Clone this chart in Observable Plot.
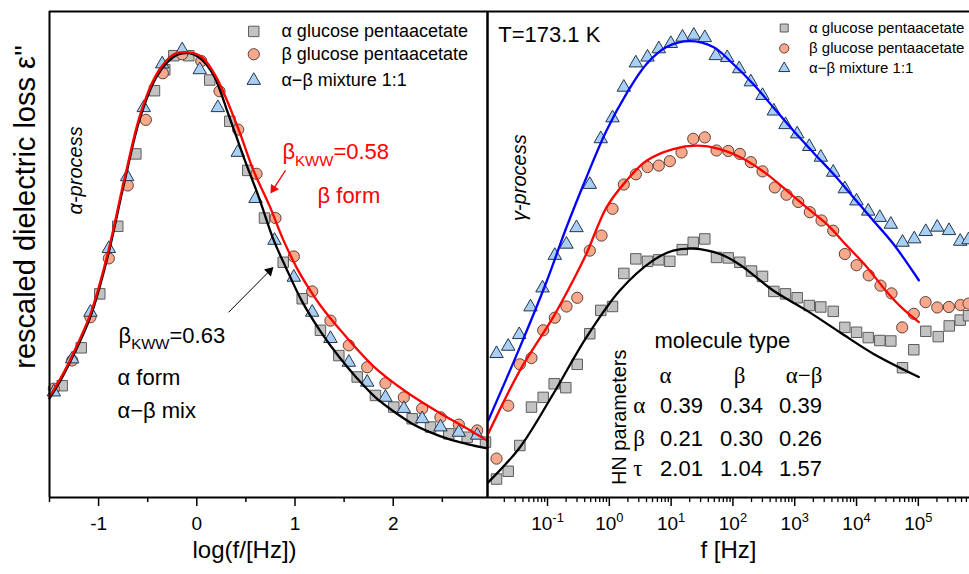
<!DOCTYPE html>
<html><head><meta charset="utf-8">
<script src="https://cdn.jsdelivr.net/npm/d3@7"></script>
<script src="https://cdn.jsdelivr.net/npm/@observablehq/plot@0.6"></script>
<style>
body{margin:0;background:#fff;}
#wrap{display:flex;width:969px;height:574px;overflow:hidden;background:#fff;}
#wrap svg{overflow:visible;flex:none;}
</style></head><body><div id="wrap"></div>
<script>
// ---------- LEFT PANEL (alpha process), x = log10(f/Hz), y = rescaled loss (a.u.) ----------
const lfAlphaL = [-1.371,-1.177,-0.988,-0.805,-0.621,-0.431,-0.326,-0.234,-0.082,0.132,0.336,0.519,0.689,0.880,1.073,1.259,1.446,1.633,1.819,2.006,2.193,2.380,2.566,2.753,2.940];
const lossAlphaL = [23.0,30.8,41.9,55.8,70.7,83.7,88.0,90.9,90.9,85.9,77.4,67.3,57.5,48.4,40.9,34.4,29.2,24.8,21.0,18.6,16.2,14.5,13.1,12.4,11.4];
const lfBetaL = [-1.456,-1.269,-1.083,-0.896,-0.703,-0.519,-0.346,-0.149,0.045,0.231,0.421,0.608,0.801,0.988,1.175,1.361,1.548,1.735,1.921,2.108,2.295,2.481,2.668,2.855];
const lossBetaL = [22.4,28.2,37.1,49.2,64.2,77.7,87.3,91.2,89.8,83.6,75.7,66.6,57.5,49.6,42.4,36.4,31.3,26.8,23.5,20.6,18.3,16.5,15.0,13.8];
const lfMixL = [-1.456,-1.269,-1.083,-0.896,-0.709,-0.540,-0.352,-0.149,0.030,0.214,0.417,0.598,0.791,0.988,1.175,1.361,1.548,1.735,1.921,2.108,2.295,2.481,2.668,2.855];
const lossMixL = [21.7,28.5,38.1,51.2,66.0,80.2,89.2,92.1,88.0,80.2,71.0,61.5,52.9,45.3,38.1,32.7,27.8,23.7,20.6,18.3,16.2,14.5,13.4,12.8];
// KWW fits
const lfFit063 = [-1.5,-1.388,-1.253,-1.083,-0.912,-0.743,-0.573,-0.403,-0.234,-0.098,0.038,0.173,0.326,0.478,0.631,0.784,0.903,1.073,1.259,1.446,1.633,1.819,2.006,2.193,2.380,2.566,2.753,2.957];
const fit063 = [20.4,24.1,29.4,37.2,49.2,64.4,78.4,86.8,90.7,91.5,90.3,86.8,78.6,70.0,61.8,52.9,47.5,40.3,34.2,29.0,24.5,20.6,17.7,15.2,13.4,12.0,11.0,10.1];
const lfFit058 = [-1.5,-1.388,-1.253,-1.083,-0.912,-0.743,-0.573,-0.403,-0.234,-0.085,0.048,0.190,0.411,0.577,0.743,0.883,1.022,1.124,1.259,1.463,1.799,2.142,2.481,2.716,2.957];
const fit058 = [20.8,24.5,29.9,37.8,49.8,65.0,79.0,87.3,91.2,91.6,90.7,86.8,76.5,67.3,59.9,52.9,47.1,43.6,39.5,34.4,27.0,21.6,17.3,14.6,11.7];
const leftTicks = [-1, 0, 1, 2];
const leftMinorTicks = [-1.5, -0.5, 0.5, 1.5, 2.5];

// ---------- RIGHT PANEL (gamma process), x = log10(f/Hz) ----------
const lfAlphaR = [-1.825,-1.636,-1.448,-1.259,-1.070,-0.892,-0.704,-0.519,-0.316,-0.138,0.052,0.235,0.429,0.618,0.801,0.979,1.180,1.358,1.545,1.735,1.924,2.112,2.301,2.479,2.662,2.851,3.040,3.235,3.422,3.623,3.811,4.000,4.189,4.377,4.555,4.744,4.927,5.121,5.322,5.500,5.678,5.812];
const lossAlphaR = [3.8,5.4,10.7,18.6,20.6,23.4,22.6,27.4,33.7,38.5,39.3,46.1,49.1,48.6,48.9,48.6,51.0,52.5,53.2,49.4,49.3,48.4,46.6,45.5,42.4,41.9,41.1,39.5,39.2,38.3,35.0,34.0,32.9,32.3,32.2,26.7,30.4,34.2,33.1,35.3,36.5,37.4];
const lfBetaR = [-1.825,-1.636,-1.448,-1.259,-1.070,-0.882,-0.693,-0.519,-0.316,-0.126,0.052,0.235,0.429,0.618,0.801,0.979,1.168,1.358,1.545,1.735,1.924,2.112,2.290,2.479,2.678,2.867,3.057,3.244,3.434,3.623,3.811,4.000,4.197,4.388,4.566,4.739,4.927,5.117,5.306,5.494,5.683,5.812];
const lossBetaR = [8.0,18.9,27.4,28.7,34.4,37.0,39.3,41.1,50.8,53.9,59.4,64.4,66.5,68.0,68.3,69.2,71.0,73.8,74.1,71.4,71.3,70.7,69.0,67.1,63.8,62.3,60.8,58.7,57.0,54.9,50.1,47.8,45.7,43.6,42.0,35.0,37.8,40.2,39.1,39.2,39.6,39.9];
const lfMixR = [-1.825,-1.636,-1.458,-1.275,-1.081,-0.882,-0.693,-0.531,-0.316,-0.138,0.052,0.235,0.429,0.618,0.801,0.995,1.184,1.367,1.545,1.723,1.908,2.102,2.290,2.479,2.662,2.851,3.040,3.235,3.422,3.623,3.811,4.000,4.189,4.377,4.555,4.744,4.934,5.120,5.306,5.497,5.678,5.812];
const lossMixR = [29.6,31.1,33.5,39.2,43.1,49.8,52.1,55.5,64.4,73.8,78.1,84.4,89.4,90.6,92.3,93.4,94.7,95.1,94.6,90.9,90.5,88.2,85.5,82.7,79.5,76.7,74.8,72.2,70.0,66.9,63.5,61.0,58.9,57.6,56.2,52.5,53.2,54.7,55.6,54.9,52.7,53.0];
// HN fits
const lfFitMix = [-1.960,-1.448,-1.016,-0.693,-0.369,-0.045,0.278,0.602,0.926,1.303,1.681,2.005,2.328,2.652,2.976,3.299,3.623,3.947,4.270,4.594,5.008];
const fitMix = [15.8,30.9,44.4,55.6,65.9,75.5,83.1,89.2,92.7,93.9,92.7,89.2,85.1,80.3,75.5,71.0,66.6,61.8,57.0,52.2,44.7];
const lfFitBeta = [-1.960,-1.448,-0.908,-0.584,-0.369,-0.045,0.278,0.602,1.034,1.411,1.788,2.167,2.544,2.867,3.191,3.515,3.838,4.162,4.485,4.744,5.008];
const fitBeta = [13.1,26.1,37.1,44.7,50.2,59.7,65.2,69.3,71.7,72.4,71.7,69.7,66.6,63.2,59.7,56.3,51.9,47.5,42.4,38.9,36.1];
const lfFitAlpha = [-1.960,-1.448,-0.908,-0.369,0.170,0.710,1.034,1.358,1.788,2.112,2.652,3.191,3.730,4.270,5.008];
const fitAlpha = [3.1,10.3,21.3,33.0,42.6,48.8,50.8,51.2,50.1,47.9,42.6,38.5,34.0,29.6,24.8];
const rightDecades = [-1, 0, 1, 2, 3, 4, 5];
const rightMinorDecades = [-2, -1, 0, 1, 2, 3, 4, 5];
const minorMantissa = [2, 3, 4, 5, 6, 7, 8, 9];

// ---------- texts ----------
const legendLabels = ["α glucose pentaacetate", "β glucose pentaacetate", "α−β mixture 1:1"];
const tableCols = ["α", "β", "α−β"];
const tableRows = ["α", "β", "τ"];
const hnValues = [[0.39, 0.34, 0.39], [0.21, 0.30, 0.26], [2.01, 1.04, 1.57]];

// ---------- helpers ----------
const FONT = "Liberation Sans, Arial, Helvetica, sans-serif";
const SERIF = "Liberation Serif, Times New Roman, serif";
const pts = (xs, ys, log) => xs.map((d, i) => ({x: log ? Math.pow(10, d) : d, y: ys[i]}));
const SQ = {symbol: "square", fill: "#c2c2c2", stroke: "#5c5c5c", strokeWidth: 1};
const CI = {symbol: "circle", fill: "#f9a98b", stroke: "#5b4038", strokeWidth: 1};
const TR = {symbol: "triangle", fill: "#a9cff3", stroke: "#22364f", strokeWidth: 1};
const P = e => Math.pow(10, e);

function rich(svg) {
  svg.querySelectorAll("text").forEach(el => {
    const s = el.textContent;
    if (!/[_^]\{/.test(s)) return;
    const fs = parseFloat(getComputedStyle(el).fontSize) || 16;
    el.textContent = "";
    const add = (txt, size, dy) => {
      const t = document.createElementNS("http://www.w3.org/2000/svg", "tspan");
      if (size) t.setAttribute("font-size", size);
      if (dy) t.setAttribute("dy", dy);
      t.textContent = txt;
      el.appendChild(t);
    };
    const re = /([_^])\{([^}]*)\}/g;
    let last = 0, m, shift = 0;
    while ((m = re.exec(s))) {
      if (m.index > last) { add(s.slice(last, m.index), null, -shift); shift = 0; }
      const off = m[1] === "_" ? 0.3 * fs : -0.42 * fs;
      add(m[2], (0.68 * fs).toFixed(1), off - shift);
      shift = off;
      last = re.lastIndex;
    }
    if (last < s.length) add(s.slice(last), null, -shift);
  });
}

// ---------- LEFT PLOT ----------
const legendRowsL = [95.9, 91.2, 85.8];
const left = Plot.plot({
  width: 487, height: 574,
  marginLeft: 49, marginRight: 0, marginTop: 11, marginBottom: 77,
  style: {fontFamily: FONT, overflow: "visible", background: "transparent", color: "black"},
  x: {domain: [-1.5, 2.96], label: null},
  y: {domain: [0, 100], axis: null},
  marks: [
    Plot.axisX({ticks: leftMinorTicks, tickSize: 5, tickFormat: () => "", strokeWidth: 1.5}),
    Plot.axisX({ticks: leftTicks, tickSize: 9, tickPadding: 10, fontSize: 19, strokeWidth: 1.5, tickFormat: d => String(d)}),
    Plot.dot(pts(lfAlphaL, lossAlphaL), {x: "x", y: "y", r: 5.9, ...SQ}),
    Plot.dot(pts(lfBetaL, lossBetaL), {x: "x", y: "y", r: 5.6, ...CI}),
    Plot.dot(pts(lfMixL, lossMixL), {x: "x", y: "y", r: 5.0, ...TR}),
    Plot.line(pts(lfFit063, fit063), {x: "x", y: "y", stroke: "black", strokeWidth: 2.3, curve: "catmull-rom"}),
    Plot.line(pts(lfFit058, fit058), {x: "x", y: "y", stroke: "#ff0000", strokeWidth: 2.3, curve: "catmull-rom"}),
    Plot.ruleY([0, 100], {strokeWidth: 2}),
    Plot.ruleX([-1.5, 2.96], {strokeWidth: 2}),
    // legend
    Plot.dot([0], {x: 0.580, y: legendRowsL[0], r: 5.9, ...SQ}),
    Plot.dot([0], {x: 0.580, y: legendRowsL[1], r: 5.6, ...CI}),
    Plot.dot([0], {x: 0.580, y: legendRowsL[2], r: 5.0, ...TR}),
    Plot.text(legendLabels, {x: 0.862, y: (d, i) => legendRowsL[i], textAnchor: "start", fontSize: 18}),
    // annotations
    Plot.text(["β_{KWW}=0.58"], {x: 0.872, y: 71.0, textAnchor: "start", fontSize: 22, fill: "#ff0000"}),
    Plot.text(["β form"], {x: 1.229, y: 62.1, textAnchor: "start", fontSize: 22, fill: "#ff0000"}),
    Plot.link([0], {x1: 0.903, y1: 67.3, x2: 0.781, y2: 63.5, stroke: "#ff0000", strokeWidth: 1.3}),
    Plot.dot([0], {x: 0.781, y: 63.5, symbol: "triangle", r: 3.6, rotate: 212.8, fill: "#ff0000", stroke: "none"}),
    Plot.text(["β_{KWW}=0.63"], {x: -0.797, y: 33.3, textAnchor: "start", fontSize: 22}),
    Plot.text(["α form"], {x: -0.808, y: 24.5, textAnchor: "start", fontSize: 22}),
    Plot.text(["α−β mix"], {x: -0.808, y: 17.9, textAnchor: "start", fontSize: 22}),
    Plot.link([0], {x1: 0.323, y1: 38.1, x2: 0.740, y2: 46.6, stroke: "black", strokeWidth: 1}),
    Plot.dot([0], {x: 0.740, y: 46.6, symbol: "triangle", r: 3.6, rotate: 45, fill: "black", stroke: "none"}),
    Plot.text(["α-process"], {x: -1.235, y: 67.3, rotate: -90, fontSize: 20, fontStyle: "italic"}),
    Plot.text(["rescaled dielectric loss ε''"], {x: -1.5, y: 59.8, dx: -24, rotate: -90, fontSize: 29}),
    Plot.text(["log(f/[Hz])"], {x: 0.486, frameAnchor: "bottom", dy: 60, fontSize: 24})
  ]
});

// ---------- RIGHT PLOT ----------
const majorR = rightDecades.map(P);
const minorR = rightMinorDecades.flatMap(k => minorMantissa.map(m => m * P(k)));
const legendRowsR = [96.6, 92.4, 88.3];
const colX = [0.909, 2.107, 3.150].map(P);
const valX = [1.168, 2.139, 3.094].map(P);
const rowY = [18.9, 12.1, 5.9];
const cells = hnValues.flatMap((row, r) => row.map((v, c) => ({r, c, t: v.toFixed(2)})));
const right = Plot.plot({
  width: 482, height: 574,
  marginLeft: 0, marginRight: 0, marginTop: 11, marginBottom: 77,
  style: {fontFamily: FONT, overflow: "visible", background: "transparent", color: "black"},
  x: {type: "log", domain: [P(-1.971), P(5.828)], label: null},
  y: {domain: [0, 100], axis: null},
  marks: [
    Plot.axisX({ticks: minorR, tickSize: 5, tickFormat: () => "", strokeWidth: 1.3}),
    Plot.axisX({ticks: majorR, tickSize: 9, tickPadding: 10, fontSize: 19, strokeWidth: 1.5,
      tickFormat: d => `10^{${Math.round(Math.log10(d))}}`}),
    Plot.dot(pts(lfAlphaR, lossAlphaR, true), {x: "x", y: "y", r: 5.9, ...SQ}),
    Plot.dot(pts(lfBetaR, lossBetaR, true), {x: "x", y: "y", r: 5.6, ...CI}),
    Plot.dot(pts(lfMixR, lossMixR, true), {x: "x", y: "y", r: 5.0, ...TR}),
    Plot.line(pts(lfFitMix, fitMix, true), {x: "x", y: "y", stroke: "#0000ff", strokeWidth: 2.3, curve: "catmull-rom"}),
    Plot.line(pts(lfFitBeta, fitBeta, true), {x: "x", y: "y", stroke: "#ff0000", strokeWidth: 2.3, curve: "catmull-rom"}),
    Plot.line(pts(lfFitAlpha, fitAlpha, true), {x: "x", y: "y", stroke: "black", strokeWidth: 2.3, curve: "catmull-rom"}),
    Plot.ruleY([0, 100], {strokeWidth: 2}),
    Plot.ruleX([P(-1.971)], {strokeWidth: 2}),
    // legend
    Plot.dot([0], {x: P(2.830), y: legendRowsR[0], r: 4.5, ...SQ}),
    Plot.dot([0], {x: P(2.830), y: legendRowsR[1], r: 4.6, ...CI}),
    Plot.dot([0], {x: P(2.830), y: legendRowsR[2], r: 4.1, ...TR}),
    Plot.text(legendLabels, {x: P(3.231), y: (d, i) => legendRowsR[i], textAnchor: "start", fontSize: 15}),
    // annotations
    Plot.text(["T=173.1 K"], {x: P(-1.798), y: 95.1, textAnchor: "start", fontSize: 22}),
    Plot.text(["γ-process"], {x: P(-1.453), y: 65.8, rotate: -90, fontSize: 20, fontStyle: "italic"}),
    // HN parameter table
    Plot.text(["molecule type"], {x: P(0.731), y: 32.3, textAnchor: "start", fontSize: 22}),
    Plot.text(tableCols, {x: (d, i) => colX[i], y: 25.1, fontSize: 23, fontFamily: SERIF}),
    Plot.text(tableRows, {x: P(0.387), y: (d, i) => rowY[i], textAnchor: "start", fontSize: 23, fontFamily: SERIF}),
    Plot.text(cells, {x: d => valX[d.c], y: d => rowY[d.r], text: "t", fontSize: 22}),
    Plot.text(["HN parameters"], {x: P(0.160), y: 16.5, rotate: -90, fontSize: 20}),
    Plot.text(["f [Hz]"], {frameAnchor: "bottom", dy: 60, fontSize: 24})
  ]
});

const wrap = document.getElementById("wrap");
wrap.appendChild(left);
wrap.appendChild(right);
rich(left);
rich(right);
</script></body></html>
